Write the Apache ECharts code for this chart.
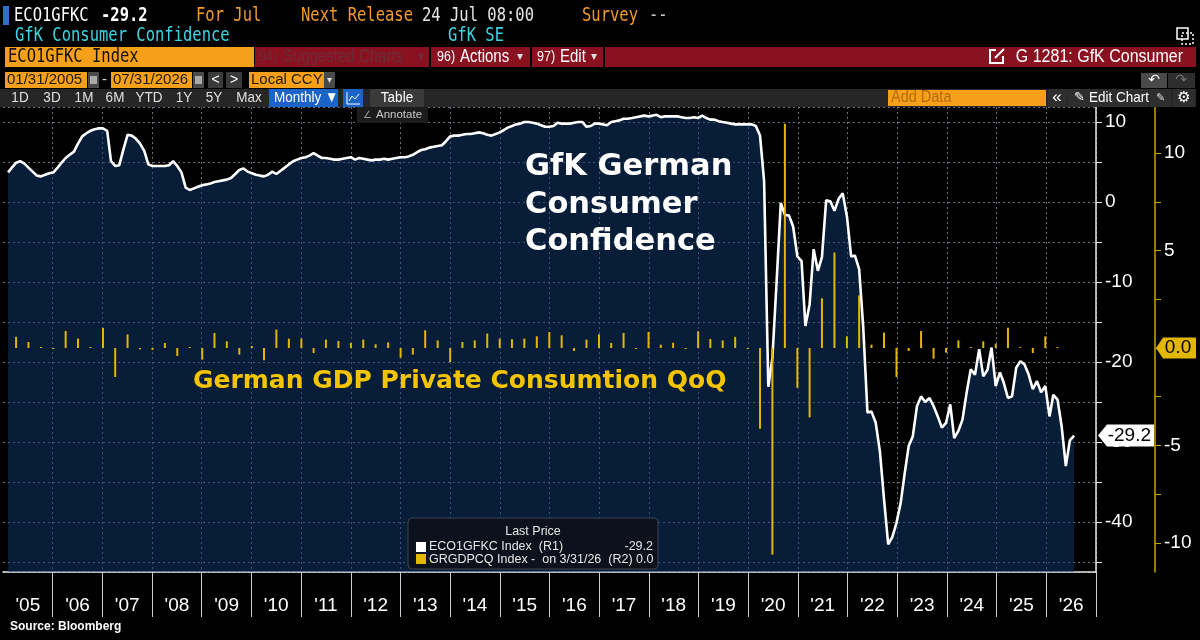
<!DOCTYPE html>
<html>
<head>
<meta charset="utf-8">
<script src="https://cdn.jsdelivr.net/npm/echarts@6/dist/echarts.min.js"></script>
<style>
  html, body { margin: 0; background: #000; }
  #chart { width: 1200px; height: 640px; }
</style>
</head>
<body>
<div id="chart"></div>
<script>
// GfK consumer climate, monthly, Jan 2005 .. Jul 2026 (R1)
var gfkValues = [
  3.7, 4.3, 4.9, 5.1, 4.8, 4.3, 3.8, 3.3, 3.2, 3.4, 3.6, 3.7,            // 2005
  4.3, 4.9, 5.5, 5.9, 6.3, 7.3, 8.2, 8.6, 8.9, 9.1, 9.2, 9.2,            // 2006
  8.9, 5.1, 4.5, 4.6, 6.6, 8.4, 8.3, 7.9, 7.3, 6.4, 4.7, 4.5,            // 2007
  4.5, 4.5, 4.5, 4.6, 5.1, 4.5, 3.7, 1.8, 1.5, 1.7, 1.9, 2.1,            // 2008
  2.2, 2.3, 2.5, 2.6, 2.7, 2.8, 3.0, 3.5, 4.0, 4.2, 3.8, 3.6,            // 2009
  3.4, 3.3, 3.2, 3.4, 3.8, 3.5, 3.9, 4.3, 4.7, 5.1, 5.3, 5.5,            // 2010
  5.6, 5.8, 6.1, 5.8, 5.5, 5.5, 5.4, 5.3, 5.3, 5.4, 5.5, 5.6,            // 2011
  5.3, 5.5, 5.4, 5.3, 5.2, 5.3, 5.3, 5.4, 5.3, 5.4, 5.5, 5.6,            // 2012
  5.6, 5.7, 5.9, 6.2, 6.5, 6.6, 6.8, 6.9, 7.0, 7.1, 7.6, 8.2,            // 2013
  8.3, 8.3, 8.4, 8.5, 8.5, 8.6, 8.7, 8.6, 8.4, 8.3, 8.5, 8.7,            // 2014
  9.0, 9.3, 9.5, 9.7, 9.8, 10.0, 10.0, 9.9, 9.8, 9.6, 9.4, 9.4,          // 2015
  9.5, 9.9, 9.8, 9.8, 9.8, 9.9, 10.0, 10.0, 9.4, 9.5, 9.8, 9.8,          // 2016
  9.7, 9.6, 10.0, 10.1, 10.2, 10.4, 10.4, 10.5, 10.6, 10.7, 10.8, 10.7,  // 2017
  10.8, 10.9, 10.6, 10.7, 10.7, 10.7, 10.7, 10.6, 10.5, 10.5, 10.6, 10.5,// 2018
  10.8, 10.5, 10.3, 10.3, 10.1, 10.0, 9.9, 9.8, 9.7, 9.7, 9.7, 9.7,      // 2019
  9.7, 9.5, 8.3, 2.6, -23.1, -19.5, -10.0, -0.1, -1.6, -1.7, -3.1, -6.8, // 2020
  -7.4, -15.5, -12.8, -5.9, -8.6, -6.9, 0.2, 0.1, -1.1, 0.4, 1.1, -1.8,  // 2021
  -6.8, -6.7, -8.4, -15.6, -26.3, -26.2, -27.6, -31.2, -37.1, -42.8, -41.9, -40.1, // 2022
  -37.6, -34.1, -30.5, -29.3, -25.5, -24.3, -25.0, -24.5, -25.5, -26.8, -28.2, -27.6, // 2023
  -25.3, -29.5, -28.6, -27.2, -23.8, -20.9, -21.6, -18.4, -21.8, -21.0, -18.2, -23.0, // 2024
  -21.3, -22.6, -24.5, -24.3, -20.7, -19.9, -20.3, -21.6, -23.4, -22.4, -23.8, -23.0, // 2025
  -26.8, -24.1, -24.7, -28.0, -33.0, -29.8, -29.2                        // 2026
];

// German GDP private consumption QoQ %, Q1 2005 .. Q1 2026 (R2)
var gdpValues = [
  0.57, 0.31, 0.05, -0.03,   // 2005
  0.87, 0.48, 0.05, 1.03,    // 2006
  -1.49, 0.70, -0.07, -0.10, // 2007
  0.26, -0.41, 0.03, -0.60,  // 2008
  0.77, 0.34, -0.34, 0.10,   // 2009
  -0.63, 0.94, 0.48, 0.48,   // 2010
  -0.26, 0.43, 0.36, 0.26,   // 2011
  0.43, 0.19, 0.29, -0.50,   // 2012
  -0.34, 0.91, 0.39, -0.72,  // 2013
  0.31, 0.39, 0.74, 0.48,    // 2014
  0.45, 0.48, 0.60, 0.82,    // 2015
  0.65, -0.15, 0.43, 0.70,   // 2016
  0.26, 0.77, -0.05, 0.82,   // 2017
  0.17, 0.27, -0.05, 0.86,   // 2018
  0.46, 0.39, 0.57, -0.06,   // 2019
  -4.14, -10.6, 11.5, -2.04, // 2020
  -3.56, 2.55, 4.90, 0.60,   // 2021
  2.70, 0.17, 0.79, -1.49,   // 2022
  -0.15, 0.87, -0.55, -0.24, // 2023
  0.39, 0.05, 0.34, 0.22,    // 2024
  1.04, 0.03, -0.26, 0.60,   // 2025
  0.0                        // 2026
];

var yearLabels = ["'05", "'06", "'07", "'08", "'09", "'10", "'11", "'12", "'13", "'14", "'15",
                  "'16", "'17", "'18", "'19", "'20", "'21", "'22", "'23", "'24", "'25", "'26"];

var MONO = '"DejaVu Sans Mono", "Liberation Mono", monospace';
var SANS = '"Liberation Sans", Arial, sans-serif';
var BOLD = '"DejaVu Sans", Verdana, sans-serif';
var ORANGE = '#f6a01a';
var YELLOW = '#e3b600';

// month-end / quarter-end dates
var gfkData = gfkValues.map(function (v, i) { return [Date.UTC(2005, i + 1, 0), v]; });
var gdpData = gdpValues.map(function (v, i) { return [Date.UTC(2005, 3 * (i + 1), 0), v]; });

function T(x, y, s, fill, size, opt) {
  opt = opt || {};
  return {
    type: 'text', x: x, y: y, z: 100, silent: true, scaleY: opt.sy || 1,
    style: {
      text: s, fill: fill,
      font: (opt.bold ? 'bold ' : '') + size + 'px ' + (opt.family || SANS),
      align: opt.align || 'left', verticalAlign: 'middle'
    }
  };
}
function R(x, y, w, h, fill, opt) {
  opt = opt || {};
  return {
    type: 'rect', z: 90, silent: true,
    shape: { x: x, y: y, width: w, height: h, r: opt.r || 0 },
    style: { fill: fill, stroke: opt.stroke || null, lineWidth: opt.lw || 1, lineDash: opt.dash || null }
  };
}

var header = [
  // row 1
  R(3, 6, 6, 19, '#2e6ed3'),
  T(14, 16, 'ECO1GFKC', '#fff', 15.5, { family: MONO, sy: 1.25 }),
  T(101, 16, '-29.2', '#fff', 15.5, { family: MONO, sy: 1.25, bold: true }),
  T(196, 16, 'For Jul', '#f29a2e', 15.5, { family: MONO, sy: 1.25 }),
  T(301, 16, 'Next Release', '#f29a2e', 15.5, { family: MONO, sy: 1.25 }),
  T(422, 16, '24 Jul 08:00', '#e6e6e6', 15.5, { family: MONO, sy: 1.25 }),
  T(582, 16, 'Survey', '#f29a2e', 15.5, { family: MONO, sy: 1.25 }),
  T(649, 16, '--', '#c8c8c8', 15.5, { family: MONO, sy: 1.25 }),
  // row 2
  T(15, 36, 'GfK Consumer Confidence', '#3fd3e3', 15.5, { family: MONO, sy: 1.25 }),
  T(448, 36, 'GfK SE', '#3fd3e3', 15.5, { family: MONO, sy: 1.25 }),
  // top right icon
  R(1177, 28, 11, 11, null, { stroke: '#fff', lw: 1.5 }),
  R(1182, 33, 11, 11, null, { stroke: '#fff', lw: 1.5, dash: [2, 2] }),
  // row 3
  R(5, 47, 249, 20, ORANGE),
  T(8, 57, 'ECO1GFKC Index', '#111', 15.5, { family: MONO, sy: 1.2 }),
  R(255, 47, 941, 20, '#8a1220'),
  R(429, 47, 2, 20, '#000'), R(530, 47, 2, 20, '#000'), R(603, 47, 2, 20, '#000'),
  T(259, 57, '94)', '#6b2c37', 12.5, { sy: 1.2 }),
  T(283, 57, 'Suggested Charts', '#6b2c37', 15, { sy: 1.2 }),
  T(418, 57, '\u25BE', '#6b2c37', 12),
  T(437, 57, '96)', '#fff', 12.5, { sy: 1.2 }),
  T(460, 57, 'Actions', '#fff', 15, { sy: 1.2 }),
  T(517, 57, '\u25BE', '#ddd', 12),
  T(537, 57, '97)', '#fff', 12.5, { sy: 1.2 }),
  T(560, 57, 'Edit', '#fff', 15, { sy: 1.2 }),
  T(591, 57, '\u25BE', '#ddd', 12),
  R(990, 50, 13, 13, null, { stroke: '#fff', lw: 2 }),
  R(996, 49, 8, 7, '#8a1220'),
  { type: 'line', z: 95, silent: true, shape: { x1: 995, y1: 58, x2: 1004, y2: 49 }, style: { stroke: '#fff', lineWidth: 2 } },
  T(1183, 57, 'G 1281: GfK Consumer', '#fff', 16, { align: 'right', sy: 1.15 }),
  // row 4
  R(5, 72, 82, 16, ORANGE), T(7, 80, '01/31/2005', '#1a1a1a', 15),
  R(88, 72, 11, 16, '#4a4a4a'), R(90, 76, 7, 8, '#aaa'),
  T(102, 80, '-', '#ddd', 15),
  R(111, 72, 81, 16, ORANGE), T(113, 80, '07/31/2026', '#1a1a1a', 15),
  R(193, 72, 11, 16, '#4a4a4a'), R(195, 76, 7, 8, '#aaa'),
  R(208, 72, 15, 16, '#3a3a3a'), T(215.5, 80, '<', '#fff', 14, { align: 'center' }),
  R(226, 72, 16, 16, '#3a3a3a'), T(234, 80, '>', '#fff', 14, { align: 'center' }),
  R(249, 72, 75, 16, ORANGE), T(251, 80, 'Local CCY', '#1a1a1a', 15),
  R(324, 72, 11, 16, '#4a4a4a'), T(329.5, 80, '\u25BE', '#ddd', 10, { align: 'center' }),
  R(1141, 73, 26, 15, '#4a4a4a'), T(1154, 80.5, '\u21B6', '#fff', 14, { align: 'center', family: BOLD }),
  R(1168, 73, 27, 15, '#2e2e2e'), T(1181, 80.5, '\u21B7', '#777', 14, { align: 'center', family: BOLD }),
  // row 5
  R(0, 89, 1196, 18, '#262626'),
  T(20, 98, '1D', '#e0e0e0', 13.5, { align: 'center', sy: 1.15 }),
  T(52, 98, '3D', '#e0e0e0', 13.5, { align: 'center', sy: 1.15 }),
  T(84, 98, '1M', '#e0e0e0', 13.5, { align: 'center', sy: 1.15 }),
  T(115, 98, '6M', '#e0e0e0', 13.5, { align: 'center', sy: 1.15 }),
  T(149, 98, 'YTD', '#e0e0e0', 13.5, { align: 'center', sy: 1.15 }),
  T(184, 98, '1Y', '#e0e0e0', 13.5, { align: 'center', sy: 1.15 }),
  T(214, 98, '5Y', '#e0e0e0', 13.5, { align: 'center', sy: 1.15 }),
  T(249, 98, 'Max', '#e0e0e0', 13.5, { align: 'center', sy: 1.15 }),
  R(269, 89, 69, 18, '#1b63c6'), T(274, 98, 'Monthly \u25BC', '#fff', 13.5, { sy: 1.15 }),
  R(343, 89, 20, 18, '#1b63c6'),
  { type: 'polyline', z: 95, silent: true, shape: { points: [[347, 92], [347, 104], [360, 104]] }, style: { stroke: '#fff', lineWidth: 1, fill: null } },
  { type: 'polyline', z: 95, silent: true, shape: { points: [[349, 101], [352, 96], [355, 99], [359, 94]] }, style: { stroke: '#fff', lineWidth: 1, fill: null } },
  R(370, 89, 54, 18, '#3a3a3a'), T(397, 98, 'Table', '#fff', 13.5, { align: 'center', sy: 1.15 }),
  R(888, 90, 158, 16, ORANGE), T(891, 98, 'Add Data', '#b46a0c', 14.5, { sy: 1.1 }),
  R(1048, 89, 19, 18, '#2e2e2e'), T(1057, 97, '\u00AB', '#fff', 17, { align: 'center' }),
  R(1068, 89, 80, 18, '#2e2e2e'), T(1074, 98, '\u270E', '#fff', 13, { family: BOLD }),
  T(1089, 98, 'Edit Chart', '#fff', 13.5, { sy: 1.15 }),
  R(1150, 89, 21, 18, '#2e2e2e'), T(1160.5, 98, '\u270E', '#ddd', 11, { align: 'center', family: BOLD }),
  R(1173, 89, 22, 18, '#2e2e2e'), T(1184, 98, '\u2699', '#fff', 15, { align: 'center', family: BOLD }),
  // annotate button
  R(357, 107, 71, 16, '#1c1c1c'),
  T(363, 115, '\u2220', '#999', 10, { family: BOLD }),
  T(376, 115, 'Annotate', '#c8c8c8', 11.5),
  // text annotations
  T(525, 167, 'GfK German', '#fff', 30.5, { bold: true, family: BOLD }),
  T(525, 205, 'Consumer', '#fff', 30.5, { bold: true, family: BOLD }),
  T(525, 242, 'Confidence', '#fff', 30.5, { bold: true, family: BOLD }),
  T(193, 381, 'German GDP Private Consumtion QoQ', '#f5c400', 25, { bold: true, family: BOLD }),
  // legend
  R(408, 518, 250, 51, '#0b121b', { stroke: '#3b4452', r: 4 }),
  T(533, 532, 'Last Price', '#e6e6e6', 12.5, { align: 'center' }),
  R(416, 542, 10, 10, '#fff'),
  T(429, 547, 'ECO1GFKC Index  (R1)', '#e6e6e6', 12.5),
  T(653, 547, '-29.2', '#e6e6e6', 12.5, { align: 'right' }),
  R(416, 554, 10, 10, YELLOW),
  T(429, 560, 'GRGDPCQ Index -  on 3/31/26  (R2) 0.0', '#e6e6e6', 12.5),
  // source
  T(10, 627, 'Source: Bloomberg', '#fff', 12, { bold: true })
];

var chart = echarts.init(document.getElementById('chart'));

var dotted = { color: '#6a7382', width: 1, type: [2, 3] };
var skipFirst = function (index) { return index !== 0; };

chart.setOption({
  backgroundColor: '#000',
  useUTC: true,
  animation: false,
  grid: { left: 3, right: 104, top: 107, bottom: 68, containLabel: false },
  xAxis: [
    {
      type: 'time',
      min: Date.UTC(2005, 0, 1),
      max: Date.UTC(2027, 0, 1),
      axisLine: { show: true, onZero: false, lineStyle: { color: '#e8e8e8', width: 1.5 } },
      axisTick: { show: false },
      axisLabel: { show: false },
      splitLine: { show: false }
    },
    {
      type: 'category',
      data: yearLabels,
      position: 'bottom',
      boundaryGap: true,
      axisLine: { show: false, onZero: false },
      axisTick: { show: true, interval: skipFirst, length: 45, lineStyle: { color: '#c9ced6', width: 1 } },
      axisLabel: { interval: 0, color: '#fff', fontSize: 19, fontFamily: SANS, margin: 24 },
      splitLine: { show: true, interval: skipFirst, lineStyle: dotted }
    }
  ],
  yAxis: [
    {
      type: 'value',
      position: 'right',
      min: -46.25,
      max: 11.875,
      minInterval: 5,
      maxInterval: 5,
      axisLine: { show: true, lineStyle: { color: '#e8e8e8', width: 1.5 } },
      axisTick: { show: true, length: 6, lineStyle: { color: '#e8e8e8' } },
      axisLabel: {
        color: '#fff', fontSize: 19, fontFamily: SANS, margin: 9,
        showMinLabel: false, showMaxLabel: false,
        formatter: function (v) { return Math.abs(v % 10) < 1e-6 ? String(v) : ''; }
      },
      splitLine: { show: true, lineStyle: dotted }
    },
    {
      type: 'value',
      position: 'right',
      offset: 59,
      min: -11.49,
      max: 12.36,
      minInterval: 2.5,
      maxInterval: 2.5,
      axisLine: { show: true, lineStyle: { color: '#c9a400', width: 1.5 } },
      axisTick: { show: true, length: 6, lineStyle: { color: '#c9a400' } },
      axisLabel: {
        color: '#fff', fontSize: 19, fontFamily: SANS, margin: 9,
        showMinLabel: false, showMaxLabel: false,
        formatter: function (v) { return (Math.abs(v % 5) < 1e-6 && v !== 0) ? String(v) : ''; }
      },
      splitLine: { show: false }
    }
  ],
  series: [
    {
      // navy fill, half transparent so the dotted grid shows through
      name: 'area',
      type: 'line',
      data: gfkData,
      xAxisIndex: 0, yAxisIndex: 0,
      showSymbol: false, silent: true, z: 1,
      lineStyle: { width: 0 },
      areaStyle: { color: 'rgba(14,58,112,0.5)', opacity: 1, origin: 'start' }
    },
    {
      name: 'ECO1GFKC Index',
      type: 'line',
      data: gfkData,
      xAxisIndex: 0, yAxisIndex: 0,
      showSymbol: false, z: 3,
      lineStyle: { color: '#fff', width: 2.6 }
    },
    {
      name: 'GRGDPCQ Index',
      type: 'bar',
      data: gdpData,
      xAxisIndex: 0, yAxisIndex: 1,
      barWidth: 2, barMinHeight: 1, z: 4,
      itemStyle: { color: YELLOW }
    }
  ]
});

// last-value tags on both right axes
var lastGfk = gfkValues[gfkValues.length - 1];
var lastGdp = gdpValues[gdpValues.length - 1];
var y1 = chart.convertToPixel({ yAxisIndex: 0 }, lastGfk);
var y2 = chart.convertToPixel({ yAxisIndex: 1 }, lastGdp);

var tags = [
  { type: 'polygon', z: 110, silent: true,
    shape: { points: [[1098, y1], [1107, y1 - 11], [1154, y1 - 11], [1154, y1 + 11], [1107, y1 + 11]] },
    style: { fill: '#fff' } },
  T(1151, y1, lastGfk.toFixed(1), '#000', 19, { align: 'right' }),
  { type: 'polygon', z: 110, silent: true,
    shape: { points: [[1156, y2], [1163, y2 - 10.5], [1196, y2 - 10.5], [1196, y2 + 10.5], [1163, y2 + 10.5]] },
    style: { fill: YELLOW } },
  T(1178, y2, lastGdp.toFixed(1), '#000', 19, { align: 'center' })
];
tags[1].z = 120; tags[3].z = 120;

chart.setOption({ graphic: { elements: header.concat(tags) } });
</script>
</body>
</html>
